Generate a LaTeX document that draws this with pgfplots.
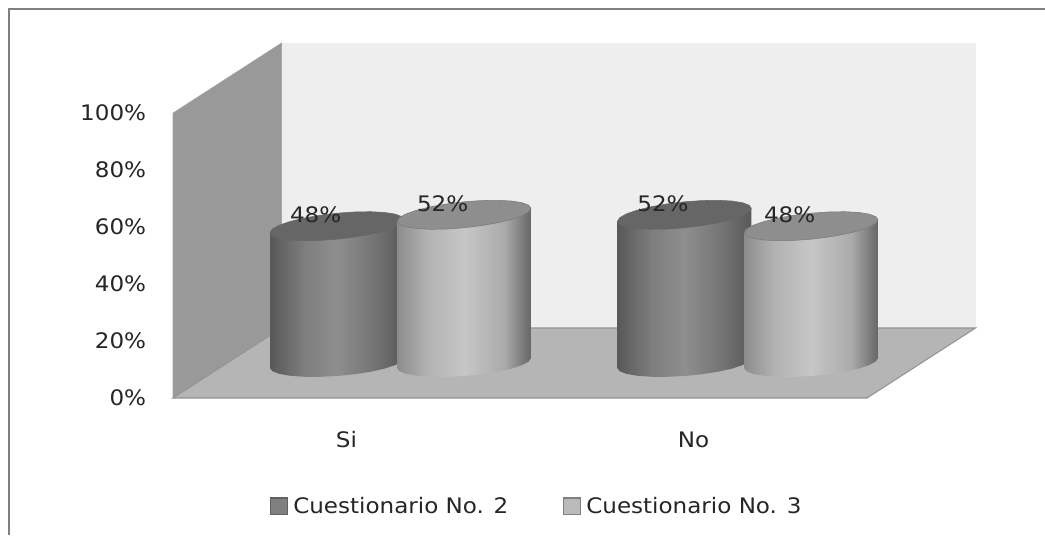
\documentclass[border=0pt]{standalone}
\usepackage{fontspec}
\setmainfont[FakeStretch=1.08]{DejaVu Sans}
\usepackage{pgfplots}
\usepackage{pgfplotstable}
\pgfplotsset{compat=1.18}
\definecolor{a0}{HTML}{585858}\definecolor{a1}{HTML}{7E7E7E}\definecolor{a2}{HTML}{8E8E8E}\definecolor{a3}{HTML}{767676}
\definecolor{b0}{HTML}{8C8C8C}\definecolor{b1}{HTML}{B2B2B2}\definecolor{b2}{HTML}{C6C6C6}\definecolor{b3}{HTML}{ABABAB}\definecolor{b4}{HTML}{666666}
\definecolor{capA}{HTML}{666666}\definecolor{capB}{HTML}{8E8E8E}
\definecolor{edgeA}{HTML}{666666}\definecolor{edgeB}{HTML}{7A7A7A}
\pgfdeclarehorizontalshading{cylA}{100bp}{color(0bp)=(a0);color(25bp)=(a0);color(38bp)=(a1);color(50bp)=(a2);color(63bp)=(a3);color(75bp)=(a0);color(100bp)=(a0)}
\pgfdeclarehorizontalshading{cylB}{100bp}{color(0bp)=(b0);color(25bp)=(b0);color(36bp)=(b1);color(50bp)=(b2);color(65bp)=(b3);color(75bp)=(b4);color(100bp)=(b4)}
% outline of a cylinder: offsets from its centre; column top = 1 for points that rise with the value
\pgfplotstableread{
dx dy top
-0.193 -2.28 1
-0.193 -1.75 0
-0.1864 -2.87 0
-0.1671 -3.80 0
-0.1365 -4.46 0
-0.0965 -4.82 0
-0.05 -4.86 0
0 -4.56 0
0.05 -3.95 0
0.0965 -3.07 0
0.1365 -1.99 0
0.1671 -0.76 0
0.1864 0.51 0
0.193 1.75 0
0.193 2.28 1
}\bodyshape
\pgfplotstableread{
dx dy
0.193 2.28
0.1864 3.38
0.1671 4.25
0.1365 4.84
0.0965 5.09
0.05 4.99
0 4.56
-0.05 3.81
-0.0965 2.81
-0.1365 1.61
-0.1671 0.31
-0.1864 -1.02
-0.193 -2.28
-0.1864 -3.38
-0.1671 -4.25
-0.1365 -4.84
-0.0965 -5.09
-0.05 -4.99
0 -4.56
0.05 -3.81
0.0965 -2.81
0.1365 -1.61
0.1671 -0.31
0.1864 1.02
}\capshape
% #1 A/B, #2 centre, #3 value
\newcommand{\Cyl}[3]{%
  \addplot[forget plot,draw=none,shade,shading=cyl#1,xshift=40.5pt,yshift=26.25pt]
    table[x expr=\thisrow{dx}+#2,y expr=\thisrow{dy}+\thisrow{top}*#3] {\bodyshape} --cycle;
  \addplot[forget plot,fill=cap#1,draw=edge#1,line width=0.4pt,xshift=40.5pt,yshift=26.25pt]
    table[x expr=\thisrow{dx}+#2,y expr=\thisrow{dy}+#3] {\capshape} --cycle;
  \addplot[forget plot,draw=none,xshift=40.5pt,yshift=26.25pt,
    nodes near coords={\pgfmathprintnumber{\pgfplotspointmeta}\%},
    point meta=y,
    every node near coord/.style={anchor=center,inner sep=0pt,xshift=-16pt,yshift=8.25pt,text=black!85,font=\fontsize{16pt}{18pt}\selectfont,
      /pgf/number format/assume math mode=true,/pgf/number format/precision=0}]
    coordinates {(#2,#3)};
}
\begin{document}
\begin{tikzpicture}
\useasboundingbox (0,0) rectangle (783.75pt,-401.25pt);
\fill[white] (0,0) rectangle (783.75pt,-401.25pt);
\draw[color=black!50,line width=1.6pt] (6.6pt,-401.25pt) -- (6.6pt,-6.8pt) -- (783.75pt,-6.8pt);
\begin{axis}[
  at={(129.75pt,-298.5pt)},anchor=south west,
  scale only axis,width=520.5pt,height=213.75pt,
  xmin=0,xmax=2,ymin=0,ymax=100,clip=false,
  axis line style={draw=none},tick style={draw=none},
  ytick={0,20,40,60,80,100},
  yticklabel={\pgfmathprintnumber{\tick}\%},
  xtick={0.5,1.5},xticklabels={Si,No},
  /pgf/number format/assume math mode=true,
  yticklabel style={inner sep=0pt,anchor=east,xshift=-20pt},
  xticklabel style={inner sep=0pt,anchor=center,yshift=-31.5pt},
  tick label style={font=\fontsize{16pt}{18pt}\selectfont,text=black!85},
  legend style={at={(0.5245,-0.38)},anchor=center,draw=none,fill=none,legend columns=2,
    font=\fontsize{16pt}{18pt}\selectfont,text=black!85,
    /tikz/every even column/.style={column sep=39pt},
    /tikz/every odd column/.style={column sep=2pt},
    inner sep=0pt},
  legend image code/.code={\draw[#1] (0pt,-6.2pt) rectangle (12.6pt,6.2pt);},
]
\addplot[forget plot,draw=none,fill=black!6.5,xshift=81.4pt,yshift=52.5pt] coordinates {(0,0) (2,0) (2,100) (0,100)} --cycle;
\addplot[forget plot,draw=black!35,fill=black!40] coordinates {(0,0) (0,100) (0.3127,124.56) (0.3127,24.56)} --cycle;
\addplot[forget plot,draw=black!42,fill=black!29,line width=0.8pt] coordinates {(0,0) (2,0) (2.3127,24.56) (0.3127,24.56)} --cycle;
\Cyl{A}{0.317}{48}
\Cyl{B}{0.683}{52}
\Cyl{A}{1.318}{52}
\Cyl{B}{1.683}{48}
\addlegendimage{draw=black!62,fill=black!50,line width=0.9pt}
\addlegendentry{Cuestionario No. 2}
\addlegendimage{draw=black!50,fill=black!27,line width=0.9pt}
\addlegendentry{Cuestionario No. 3}
\end{axis}
\end{tikzpicture}
\end{document}
